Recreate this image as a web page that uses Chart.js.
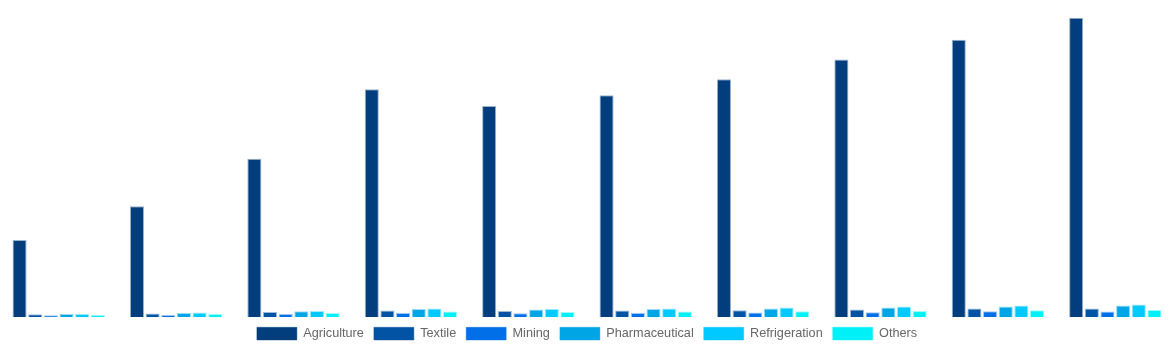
<!DOCTYPE html>
<html>
<head>
<meta charset="utf-8">
<script src="https://cdn.jsdelivr.net/npm/chart.js@4/dist/chart.umd.min.js"></script>
<style>
  html, body { margin: 0; padding: 0; background: #fff; }
  #wrap { width: 1174px; height: 350px; }
</style>
</head>
<body>
<div id="wrap"><canvas id="bar-chartcanvas"></canvas></div>
<script>
// categories (not shown on the chart, axes are hidden)
var years = ["2010", "2011", "2012", "2013", "2014", "2015", "2016", "2017", "2018", "2019"];

// series values
var agriculture = [390, 560, 800, 1150, 1065, 1120, 1200, 1300, 1400, 1510];
var textile = [15, 19, 27, 34, 32, 34, 35, 39, 45, 45];
var mining = [10, 12, 17, 22, 20, 22, 24, 25, 30, 29];
var pharmaceutical = [17, 22, 30, 42, 39, 42, 45, 49, 55, 60];
var refrigeration = [17, 24, 32, 45, 42, 45, 49, 54, 60, 65];
var others = [12, 17, 22, 29, 27, 29, 30, 32, 35, 37];

var names = ["Agriculture", "Textile", "Mining", "Pharmaceutical", "Refrigeration", "Others"];
var colors = ["#023e7d", "#0353a4", "#006fe8", "#00a5e6", "#00c9ff", "#00f0f8"];
var series = [agriculture, textile, mining, pharmaceutical, refrigeration, others];

var ctx = document.getElementById("bar-chartcanvas");

var chart = new Chart(ctx, {
  type: "bar",
  data: {
    labels: years,
    datasets: series.map(function(values, i) {
      return {
        label: names[i],
        data: values,
        backgroundColor: colors[i],
        borderColor: colors[i] + "66",
        borderWidth: 1
      };
    })
  },
  options: {
    responsive: true,
    maintainAspectRatio: false,
    animation: false,
    layout: { padding: 0 },
    scales: {
      x: { display: false },
      y: { display: false, min: 0, max: 1600 }
    },
    plugins: {
      tooltip: { enabled: false },
      legend: {
        display: true,
        position: "bottom",
        labels: {
          color: "#666",
          boxWidth: 40,
          font: { size: 12.7, family: "'Liberation Sans', Arial, sans-serif" }
        }
      }
    }
  }
});
</script>
</body>
</html>
